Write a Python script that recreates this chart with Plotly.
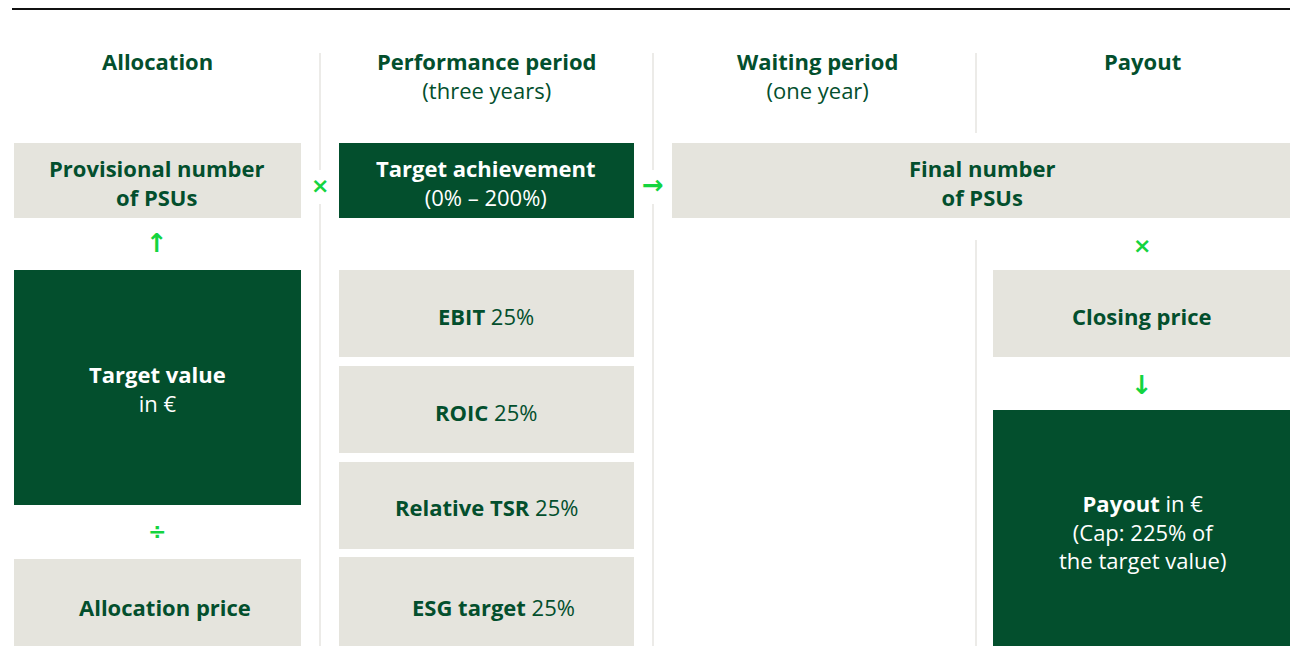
import plotly.graph_objects as go

# ---- content -------------------------------------------------------------
headers = ["Allocation", "Performance period", "Waiting period", "Payout"]
header_subs = ["", "(three years)", "(one year)", ""]

kpi_names = ["EBIT", "ROIC", "Relative TSR", "ESG target"]
kpi_weights = [25, 25, 25, 25]

# each box: list of text lines (bold part marked with <b>)
box_lines = [
    ["<b>Provisional number</b>", "<b>of PSUs</b>"],
    ["<b>Target achievement</b>", "(0% – 200%)"],
    ["<b>Final number</b>", "<b>of PSUs</b>"],
    ["<b>Target value</b>", "in €"],
    ["<b>Allocation price</b>"],
    ["<b>Closing price</b>"],
    ["<b>Payout</b> in €", "(Cap: 225% of", "the target value)"],
]

operators = ["×", "→", "↑", "÷", "×", "↓"]

# ---- styling / geometry --------------------------------------------------
W, H = 1298, 646
OFF = 8  # page body margin, pulled back through the axis ranges
DARK = "#034f2d"
BEIGE = "#e5e4dd"
BRIGHT = "#14d43f"
RULE = "#e6e5e0"
FONT = "Open Sans"
FS = 22

col_x = [157, 486, 817, 1142]
# x0, x1, y0, y1, dark?, text centre (x, y)
box_geo = [
    (14, 301, 143, 218, False, (157, 182)),
    (339, 634, 143, 218, True, (486, 182)),
    (672, 1294, 143, 218, False, (982, 182)),
    (14, 301, 270, 505, True, (157, 388)),
    (14, 301, 559, 646, False, (165, 607)),
    (993, 1294, 270, 357, False, (1142, 316)),
    (993, 1294, 410, 646, True, (1142, 531)),
]
kpi_geo = [(270, 357), (366, 453), (462, 549), (557, 646)]
kpi_text = [(486, 316), (486, 412), (486, 507), (493, 607)]
kpi_x = (339, 634)
op_pos = [(320, 185), (653, 185), (157, 243), (157, 531), (1142, 245), (1142, 385)]
op_size = [22, 26, 26, 22, 22, 26]
rules = [(320, 53, 170), (320, 204, 646), (653, 53, 170), (653, 204, 646),
         (976, 53, 133), (976, 240, 646)]

fig = go.Figure()
shapes = []
ann = []


def add_text(lines, cx, cy, color, anchor="middle"):
    ann.append(dict(x=cx, y=cy, text="<br>".join(lines), showarrow=False,
                    yanchor=anchor,
                    font=dict(family=FONT, size=FS, color=color)))


# top black rule (as high as the page margin allows)
shapes.append(dict(type="line", x0=12, x1=1294, y0=9, y1=9,
                   line=dict(color="#111111", width=2)))

for x, y0, y1 in rules:
    shapes.append(dict(type="line", x0=x, x1=x, y0=y0, y1=y1,
                       line=dict(color=RULE, width=1.5)))

for i, h in enumerate(headers):
    lines = ["<b>" + h + "</b>"]
    if header_subs[i]:
        lines.append(header_subs[i])
    add_text(lines, col_x[i], 44, DARK, anchor="top")

for (x0, x1, y0, y1, dark, (cx, cy)), lines in zip(box_geo, box_lines):
    shapes.append(dict(type="rect", x0=x0, x1=x1, y0=y0, y1=y1, line_width=0,
                       fillcolor=DARK if dark else BEIGE, layer="below"))
    add_text(lines, cx, cy, "white" if dark else DARK)

for (y0, y1), (cx, cy), name, wgt in zip(kpi_geo, kpi_text, kpi_names, kpi_weights):
    shapes.append(dict(type="rect", x0=kpi_x[0], x1=kpi_x[1], y0=y0, y1=y1,
                       line_width=0, fillcolor=BEIGE, layer="below"))
    add_text(["<b>%s</b> %d%%" % (name, wgt)], cx, cy, DARK)

for (x, y), op, sz in zip(op_pos, operators, op_size):
    ann.append(dict(x=x, y=y, text="<b>" + op + "</b>", showarrow=False,
                    font=dict(family="DejaVu Sans", size=sz, color=BRIGHT)))

fig.update_layout(
    width=W, height=H, margin=dict(l=0, r=0, t=0, b=0),
    paper_bgcolor="white", plot_bgcolor="white",
    xaxis=dict(range=[OFF, W + OFF], visible=False, fixedrange=True),
    yaxis=dict(range=[H + OFF, OFF], visible=False, fixedrange=True),
    shapes=shapes, annotations=ann, showlegend=False,
)

fig.write_html("out.html")
